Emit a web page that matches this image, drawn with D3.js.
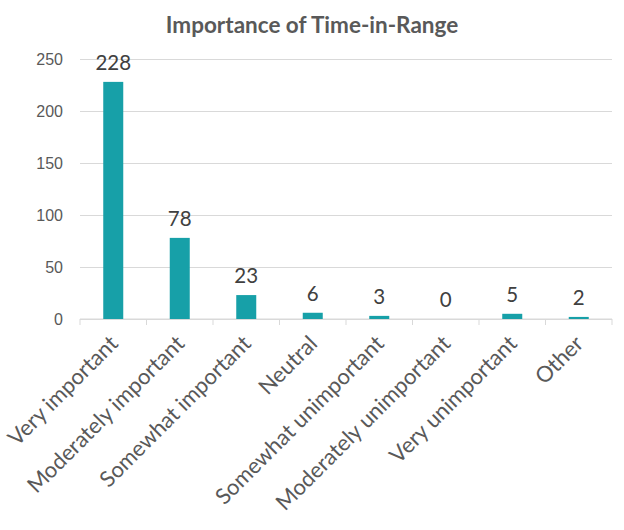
<!DOCTYPE html>
<html>
<head>
<meta charset="utf-8">
<script src="https://cdn.jsdelivr.net/npm/d3@7"></script>
<style>
  body { margin: 0; background: #fff; }
  svg { font-family: "Lato", "Open Sans", sans-serif; }
  .title { font-weight: bold; font-size: 22.5px; fill: #595959; }
  .y-axis text { font-size: 16px; fill: #595959; }
  .x-label { font-size: 22px; fill: #595959; }
  .value { font-size: 20.5px; fill: #404040; }
</style>
</head>
<body>
<div id="chart"></div>
<script>
// chart data
var categories = ["Very important", "Moderately important", "Somewhat important", "Neutral",
    "Somewhat unimportant", "Moderately unimportant", "Very unimportant", "Other"];
var counts = [228, 78, 23, 6, 3, 0, 5, 2];
var yTicks = [0, 50, 100, 150, 200, 250];
var chartTitle = "Importance of Time-in-Range";

var width = 624, height = 530;
var margin = { top: 59, right: 12, bottom: 211, left: 80 };
var innerW = width - margin.left - margin.right;
var innerH = height - margin.top - margin.bottom;

var svg = d3.select("#chart").append("svg")
    .attr("width", width)
    .attr("height", height);

svg.append("text")
    .attr("class", "title")
    .attr("x", width / 2)
    .attr("y", 33)
    .attr("text-anchor", "middle")
    .text(chartTitle);

var g = svg.append("g")
    .attr("transform", "translate(" + margin.left + "," + margin.top + ")");

var x = d3.scaleBand()
    .domain(categories)
    .range([0, innerW])
    .paddingInner(0)
    .paddingOuter(0);

var y = d3.scaleLinear()
    .domain([0, 250])
    .range([innerH, 0]);

// gridlines + y labels
var yAxis = d3.axisLeft(y)
    .tickValues(yTicks)
    .tickSize(-innerW)
    .tickPadding(17);

g.append("g")
    .attr("class", "y-axis")
    .call(yAxis)
    .call(function(s) {
        s.select(".domain").remove();
        s.selectAll(".tick line").attr("stroke", "#d9d9d9").attr("stroke-width", 1);
    });

// baseline with category tick marks
g.append("line")
    .attr("x1", 0).attr("x2", innerW)
    .attr("y1", y(0)).attr("y2", y(0))
    .attr("stroke", "#d9d9d9").attr("stroke-width", 1.2);

var bounds = categories.map(function(c) { return x(c); }).concat([innerW]);
g.selectAll(".cat-tick")
    .data(bounds)
    .enter().append("line")
    .attr("class", "cat-tick")
    .attr("x1", function(d) { return d; })
    .attr("x2", function(d) { return d; })
    .attr("y1", y(0))
    .attr("y2", y(0) + 6)
    .attr("stroke", "#d9d9d9");

var barW = 20;

g.selectAll(".bar")
    .data(counts)
    .enter().append("rect")
    .attr("class", "bar")
    .attr("x", function(d, i) { return x(categories[i]) + x.bandwidth() / 2 - barW / 2; })
    .attr("y", function(d) { return y(d); })
    .attr("width", barW)
    .attr("height", function(d) { return y(0) - y(d); })
    .attr("fill", "#17a0a8");

g.selectAll(".value")
    .data(counts)
    .enter().append("text")
    .attr("class", "value")
    .attr("x", function(d, i) { return x(categories[i]) + x.bandwidth() / 2; })
    .attr("y", function(d) { return y(d) - 12; })
    .attr("text-anchor", "middle")
    .text(function(d) { return d; });

g.selectAll(".x-label")
    .data(categories)
    .enter().append("text")
    .attr("class", "x-label")
    .attr("text-anchor", "end")
    .attr("transform", function(d) {
        return "translate(" + (x(d) + x.bandwidth() / 2 + 6) + "," + (innerH + 26) + ") rotate(-45)";
    })
    .text(function(d) { return d; });
</script>
</body>
</html>
